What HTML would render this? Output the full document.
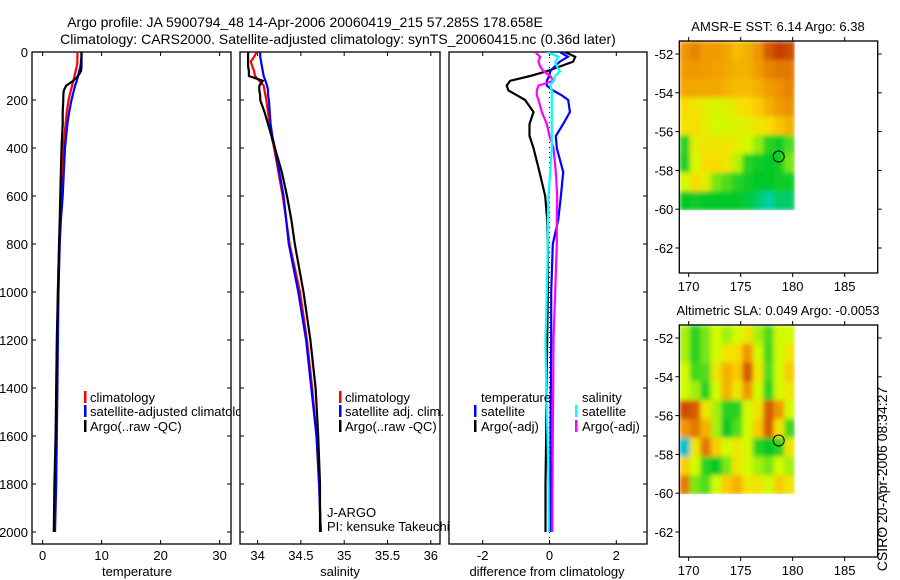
<!DOCTYPE html>
<html><head><meta charset="utf-8">
<style>
html,body{margin:0;padding:0;background:#fff;}
svg{display:block;font-family:"Liberation Sans",sans-serif;}
</style></head>
<body>
<svg id="chart" width="900" height="580" viewBox="0 0 900 580" xmlns="http://www.w3.org/2000/svg">
<rect x="0" y="0" width="900" height="580" fill="#fff"/>
<text x="305" y="27" font-size="14" text-anchor="middle">Argo profile: JA 5900794_48 14-Apr-2006 20060419_215 57.285S 178.658E</text>
<text x="338" y="44" font-size="14" text-anchor="middle">Climatology: CARS2000. Satellite-adjusted climatology: synTS_20060415.nc (0.36d later)</text>
<g id="layer"></g>
<text transform="translate(887,479) rotate(-90)" font-size="14" text-anchor="middle">CSIRO 20-Apr-2006 08:34:27</text>
</svg>
<script>
// ---------- DATA ----------
const depths = [0,20,40,60,80,100,120,140,160,180,200,250,300,350,400,500,600,700,800,1000,1200,1400,1600,1800,2000];
const tempClim = [5.9,5.9,5.9,5.8,5.6,5.4,5.2,5.0,4.8,4.6,4.4,4.1,3.9,3.7,3.5,3.3,3.2,3.0,2.8,2.6,2.5,2.4,2.3,2.2,2.0];
const tempSat  = [6.6,6.6,6.5,6.4,6.2,6.0,5.8,5.5,5.3,5.1,4.9,4.5,4.2,4.0,3.8,3.6,3.4,3.1,2.9,2.7,2.6,2.5,2.4,2.3,2.1];
const tempArgo = [6.6,6.6,6.6,6.6,6.5,6.0,5.2,4.0,3.6,3.5,3.5,3.4,3.4,3.3,3.2,3.1,3.0,2.9,2.8,2.6,2.4,2.3,2.2,2.0,1.9];
const salClim = [33.99,33.96,33.92,33.94,33.96,33.97,34.02,34.07,34.08,34.09,34.10,34.12,34.14,34.16,34.19,34.24,34.29,34.33,34.37,34.49,34.57,34.63,34.68,34.71,34.73];
const salSat  = [34.03,34.03,34.04,34.05,34.06,34.07,34.09,34.11,34.12,34.12,34.13,34.14,34.15,34.17,34.20,34.25,34.30,34.33,34.36,34.47,34.56,34.62,34.68,34.71,34.73];
const salArgo = [33.89,33.89,33.89,33.89,33.90,33.90,34.06,34.02,34.02,34.03,34.03,34.08,34.12,34.16,34.20,34.28,34.34,34.39,34.43,34.53,34.61,34.67,34.70,34.72,34.72];
const dTempSat  = [0.31,0.55,0.31,0.16,0.02,-0.01,-0.08,-0.08,0.10,0.36,0.56,0.61,0.41,0.19,0.22,0.41,0.34,0.26,0.10,0.05,0.05,0.04,0.03,0.03,0.03];
const dTempArgo = [0.46,0.77,0.71,0.32,-0.08,-0.58,-1.18,-1.28,-1.23,-0.98,-0.73,-0.48,-0.60,-0.60,-0.48,-0.30,-0.13,-0.07,-0.05,-0.05,-0.07,-0.09,-0.10,-0.12,-0.12];
const dSalSat   = [-0.08,0.27,0.17,0.22,0.31,0.17,0.12,0.02,0.07,0.07,0.07,0.07,0.07,0.07,0.07,0.02,-0.03,-0.05,-0.05,-0.08,-0.12,-0.10,-0.06,-0.03,-0.02];
const dSalArgo  = [-0.43,-0.28,-0.33,-0.28,-0.18,0.02,0.12,-0.33,-0.38,-0.38,-0.33,-0.23,-0.08,0.00,0.12,0.19,0.23,0.22,0.22,0.17,0.12,0.11,0.10,0.09,0.08];
const depthTicks = [0,200,400,600,800,1000,1200,1400,1600,1800,2000];
const tempTicks = [0,10,20,30];
const salTicks = [34,34.5,35,35.5,36];
const salTickLabels = ["34","34.5","35","35.5","36"];
const diffTicks = [-2,0,2];
const lonTicks = [170,175,180,185];
const latTicks = [-52,-54,-56,-58,-60,-62];
const sstGrid = [
 [.75,.78,.74,.74,.72,.68,.70,.75,.85,.90,.88],
 [.74,.75,.74,.73,.72,.70,.70,.74,.78,.80,.80],
 [.72,.72,.72,.72,.70,.68,.68,.70,.74,.76,.78],
 [.62,.60,.58,.56,.57,.60,.62,.65,.70,.74,.76],
 [.60,.62,.58,.55,.56,.56,.58,.60,.62,.66,.70],
 [.35,.58,.60,.60,.60,.58,.55,.48,.35,.32,.40],
 [.33,.55,.62,.62,.60,.52,.35,.32,.30,.32,.45],
 [.55,.62,.58,.45,.40,.35,.32,.30,.30,.32,.32],
 [.30,.32,.30,.30,.30,.30,.28,.25,.20,.25,.25]];
const slaGrid = [
 [.50,.35,.45,.55,.50,.55,.60,.50,.40,.55,.55],
 [.50,.35,.45,.55,.60,.62,.75,.55,.38,.55,.60],
 [.55,.38,.40,.60,.70,.65,.85,.60,.40,.55,.65],
 [.55,.50,.35,.55,.70,.60,.75,.55,.35,.55,.60],
 [.88,.85,.60,.50,.35,.35,.55,.60,.85,.75,.55],
 [.75,.80,.70,.50,.30,.40,.55,.65,.85,.60,.38],
 [.15,.60,.80,.65,.55,.60,.55,.35,.30,.35,.60],
 [.65,.55,.35,.30,.45,.60,.55,.50,.45,.55,.50],
 [.80,.45,.40,.55,.65,.70,.60,.60,.55,.65,.60]];
const floatLon = 178.658, floatLat = -57.285;

// ---------- HELPERS ----------
const NS = "http://www.w3.org/2000/svg";
const layer = document.getElementById('layer');
function mk(tag, attrs, parent) {
  const e = document.createElementNS(NS, tag);
  for (const k in attrs) e.setAttribute(k, attrs[k]);
  (parent || layer).appendChild(e);
  return e;
}
const PT = 52, PB = 544;
const yDepth = d => 52 + d * 0.24;

function panel(x0, x1, name) {
  const r = mk('rect', {x:x0, y:PT, width:x1-x0, height:PB-PT, fill:'#fff', stroke:'#000', 'stroke-width':1.3});
  
  
}
function xTicks(xs, vals, labels, x0, x1, name) {
  vals.forEach((v, i) => {
    const x = xs(v);
    const t1 = mk('line', {x1:x, x2:x, y1:PT, y2:PT+4, stroke:'#000'});
    
    
    const t2 = mk('line', {x1:x, x2:x, y1:PB, y2:PB-4, stroke:'#000'});
    
    
    const t = mk('text', {x:x, y:560, 'font-size':13, 'text-anchor':'middle'});
    t.textContent = labels[i];
    
    
  });
}
function line(xs, vals, color, name, clipId) {
  const pts = vals.map((v, i) => xs(v).toFixed(1) + ',' + yDepth(depths[i]).toFixed(1)).join(' ');
  const p = mk('polyline', {points:pts, fill:'none', stroke:color, 'stroke-width':2.2, 'clip-path':'url(#' + clipId + ')'});
  
  
}
function txt(x, y, s, name, size, anchor) {
  const t = mk('text', {x:x, y:y, 'font-size':size || 13, 'text-anchor':anchor || 'start'});
  t.textContent = s;
  
  
  return t;
}
function legendMark(x, y, color, name) {
  const r = mk('rect', {x:x, y:y-11, width:2.5, height:12, fill:color});
  
  
}
const defs = mk('defs', {});
function clip(id, x0, x1) {
  const c = mk('clipPath', {id:id}, defs);
  mk('rect', {x:x0, y:PT, width:x1-x0, height:PB-PT}, c);
}
const flt = mk('filter', {id:'smooth', x:'0', y:'0', width:'1', height:'1'}, defs);
mk('feGaussianBlur', {stdDeviation:'2.5', edgeMode:'duplicate'}, flt);

// ---------- PANEL 1 ----------
const xT = v => 42.6 + 5.9 * v;
clip('c1', 32, 231);
panel(32, 231, 'temperature-panel');
xTicks(xT, tempTicks, tempTicks.map(String), 32, 231, 'temperature-x');
depthTicks.forEach(d => {
  const y = yDepth(d);
  const a = mk('line', {x1:32, x2:36, y1:y, y2:y, stroke:'#000'});
  
  
  const b = mk('line', {x1:227, x2:231, y1:y, y2:y, stroke:'#000'});
  
  
  txt(28, y + 5, String(d), 'depth-tick-label', 13, 'end');
});
line(xT, tempClim, '#f00', 'temperature-climatology-line', 'c1');
line(xT, tempSat, '#00f', 'temperature-satellite-line', 'c1');
line(xT, tempArgo, '#000', 'temperature-argo-line', 'c1');
legendMark(84, 402, '#f00', 'legend-climatology-mark');
txt(90, 402, 'climatology', 'legend-climatology');
legendMark(84, 416, '#00f', 'legend-satellite-mark');
txt(90, 416, 'satellite-adjusted climatology', 'legend-satellite-adjusted');
legendMark(84, 431, '#000', 'legend-argo-mark');
txt(90, 431, 'Argo(..raw -QC)', 'legend-argo');
txt(137, 576, 'temperature', 'temperature-axis-title', 13, 'middle');

// ---------- PANEL 2 ----------
const xS = v => 257.6 + 86.6 * (v - 34);
clip('c2', 240, 440);
panel(240, 440, 'salinity-panel');
xTicks(xS, salTicks, salTickLabels, 240, 440, 'salinity-x');
depthTicks.forEach(d => {
  const y = yDepth(d);
  const a = mk('line', {x1:240, x2:244, y1:y, y2:y, stroke:'#000'});
  
  
});
line(xS, salClim, '#f00', 'salinity-climatology-line', 'c2');
line(xS, salSat, '#00f', 'salinity-satellite-line', 'c2');
line(xS, salArgo, '#000', 'salinity-argo-line', 'c2');
legendMark(339, 402, '#f00', 'legend2-climatology-mark');
txt(345, 402, 'climatology', 'legend2-climatology');
legendMark(339, 416, '#00f', 'legend2-satellite-mark');
txt(345, 416, 'satellite adj. clim.', 'legend2-satellite');
legendMark(339, 431, '#000', 'legend2-argo-mark');
txt(345, 431, 'Argo(..raw -QC)', 'legend2-argo');
txt(327, 517, 'J-ARGO', 'program-label');
txt(327, 531, 'PI: kensuke Takeuchi', 'pi-label');
txt(340, 576, 'salinity', 'salinity-axis-title', 13, 'middle');

// ---------- PANEL 3 ----------
const xD = v => 549.5 + 33.4 * v;
clip('c3', 449, 647);
panel(449, 647, 'difference-panel');
xTicks(xD, diffTicks, diffTicks.map(String), 449, 647, 'difference-x');
depthTicks.forEach(d => {
  const y = yDepth(d);
  const a = mk('line', {x1:643, x2:647, y1:y, y2:y, stroke:'#000'});
  
  
});
const zl = mk('line', {x1:xD(0), x2:xD(0), y1:PT, y2:PB, stroke:'#000', 'stroke-dasharray':'1,4'});


line(xD, dTempArgo, '#000', 'temp-argo-diff-line', 'c3');
line(xD, dTempSat, '#00f', 'temp-satellite-diff-line', 'c3');
line(xD, dSalArgo, '#f0f', 'sal-argo-diff-line', 'c3');
line(xD, dSalSat, '#0ff', 'sal-satellite-diff-line', 'c3');
txt(481, 402, 'temperature', 'legend3-temperature-header');
legendMark(474, 416, '#00f', 'legend3-temp-satellite-mark');
txt(481, 416, 'satellite', 'legend3-temp-satellite');
legendMark(474, 431, '#000', 'legend3-temp-argo-mark');
txt(481, 431, 'Argo(-adj)', 'legend3-temp-argo');
txt(582, 402, 'salinity', 'legend3-salinity-header');
legendMark(575, 416, '#0ff', 'legend3-sal-satellite-mark');
txt(582, 416, 'satellite', 'legend3-sal-satellite');
legendMark(575, 431, '#f0f', 'legend3-sal-argo-mark');
txt(582, 431, 'Argo(-adj)', 'legend3-sal-argo');
txt(547, 576, 'difference from climatology', 'difference-axis-title', 13, 'middle');

// ---------- MAPS ----------
function cmap(v) {
  const stops = [[0,[30,110,230]],[0.18,[0,210,190]],[0.3,[0,200,40]],[0.45,[120,230,20]],[0.55,[210,250,0]],[0.62,[250,220,0]],[0.75,[240,150,0]],[0.9,[200,60,0]],[1,[170,20,0]]];
  for (let i = 1; i < stops.length; i++) {
    if (v <= stops[i][0]) {
      const a = stops[i-1], b = stops[i], t = (v - a[0]) / (b[0] - a[0]);
      const c = a[1].map((q, k) => Math.round(q + (b[1][k] - q) * t));
      return 'rgb(' + c.join(',') + ')';
    }
  }
  return 'rgb(170,20,0)';
}
function drawMap(top, grid, title, name) {
  const L = 679.3, R = 877.7, B = top + 232;
  const xL = lon => 679.3 + (lon - 169.1) * 10.4;
  const yLat = lat => (top + 13) + (-52 - lat) * 19.4;
  txt(778, top - 10, title, name + '-title', 13, 'middle');
  const bg = mk('rect', {x:L, y:top, width:R-L, height:B-top, fill:'#fff'});
  
  
  const latN = -51.33;
  const rowH = (latN - (-60.05)) / grid.length;
  const colW = (180.2 - 169.1) / grid[0].length;
  const cid = name + '-clip';
  const cp = mk('clipPath', {id:cid}, defs);
  mk('rect', {x:L, y:top, width:xL(180.2)-L, height:yLat(-60.05)-top}, cp);
  const gc = mk('g', {'clip-path':'url(#' + cid + ')'});
  const g = mk('g', {filter:'url(#smooth)'}, gc);
  
  
  grid.forEach((row, r) => row.forEach((v, c) => {
    const lon0 = 169.1 + c * colW, lat0 = latN - r * rowH;
    const cell = mk('rect', {x:xL(lon0).toFixed(2), y:yLat(lat0).toFixed(2), width:(colW*10.4+0.6).toFixed(2), height:(rowH*19.4+0.6).toFixed(2), fill:cmap(v)}, g);
    
    
  }));
  const fr = mk('rect', {x:L, y:top, width:R-L, height:B-top, fill:'none', stroke:'#000', 'stroke-width':1.3});
  
  
  lonTicks.forEach(lon => {
    const x = xL(lon);
    const a = mk('line', {x1:x, x2:x, y1:top, y2:top-4, stroke:'#000'});
    
    
    const b = mk('line', {x1:x, x2:x, y1:B, y2:B+4, stroke:'#000'});
    
    
    txt(x, B + 18, String(lon), name + '-lon-label', 13, 'middle');
  });
  latTicks.forEach(lat => {
    const y = yLat(lat);
    const a = mk('line', {x1:L-4, x2:L, y1:y, y2:y, stroke:'#000'});
    
    
    const b = mk('line', {x1:R, x2:R+4, y1:y, y2:y, stroke:'#000'});
    
    
    txt(L - 6, y + 5, String(lat), name + '-lat-label', 13, 'end');
  });
  const c = mk('circle', {cx:xL(floatLon), cy:yLat(floatLat), r:5.5, fill:'none', stroke:'#000', 'stroke-width':1});
  
  
}
drawMap(41, sstGrid, 'AMSR-E SST: 6.14 Argo: 6.38', 'sst-map');
drawMap(325, slaGrid, 'Altimetric SLA: 0.049 Argo: -0.0053', 'sla-map');
</script>
</body></html>
